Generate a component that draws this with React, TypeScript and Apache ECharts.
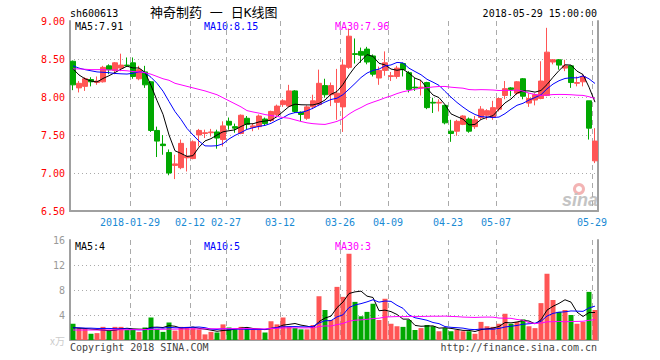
import React, { useEffect, useRef } from "react";
import * as echarts from "echarts";

// ---------- data ----------
const janDays = [15, 16, 17, 18, 19, 22, 23, 24, 25, 26, 29, 30, 31];
const febDays = [1, 2, 5, 6, 7, 8, 9, 12, 13, 14, 22, 23, 26, 27, 28];
const marDays = [1, 2, 5, 6, 7, 8, 9, 12, 13, 14, 15, 16, 19, 20, 21, 22, 23, 26, 27, 28, 29, 30];
const aprDays = [2, 3, 4, 9, 10, 11, 12, 13, 16, 17, 18, 19, 20, 23, 24, 25, 26, 27];
const mayDays = [2, 3, 4, 7, 8, 9, 10, 11, 14, 15, 16, 17, 18, 21, 22, 23, 24, 25, 28, 29];

const tickDates = ["2018-01-29", "2018-02-12", "2018-02-27", "2018-03-12", "2018-03-26", "2018-04-09", "2018-04-23", "2018-05-07", "2018-05-29"];
const tickLabels = ["2018-01-29", "02-12", "02-27", "03-12", "03-26", "04-09", "04-23", "05-07", "05-29"];

const opens = [
  8.47, 8.12, 8.14, 8.23, 8.19, 8.2, 8.41, 8.35, 8.38, 8.42,
  8.45, 8.24, 8.33, 8.2, 7.56, 7.38, 7.27, 7.1, 7.07, 7.2,
  7.19, 7.5, 7.52, 7.53, 7.54, 7.44, 7.68, 7.61, 7.52, 7.72,
  7.6, 7.61, 7.71, 7.69, 7.77, 7.9, 7.88, 8.08, 7.8, 7.72,
  7.87, 7.9, 8.15, 8.03, 7.93, 7.87, 8.39, 8.57, 8.6, 8.63,
  8.54, 8.25, 8.35, 8.27, 8.27, 8.44, 8.32, 8.13, 8.12, 8.19,
  7.93, 7.92, 7.89, 7.55, 7.55, 7.64, 7.71, 7.61, 7.73, 7.76,
  7.73, 7.84, 8.02, 8.12, 8.05, 8.24, 7.92, 7.96, 7.98, 8.02,
  8.46, 8.49, 8.38, 8.41, 8.18, 8.2, 7.95, 7.16,
];
const closes = [
  8.16, 8.18, 8.24, 8.2, 8.21, 8.39, 8.36, 8.45, 8.42, 8.41,
  8.27, 8.36, 8.16, 7.56, 7.42, 7.36, 7.0, 7.12, 7.39, 7.22,
  7.41, 7.56, 7.53, 7.54, 7.46, 7.62, 7.63, 7.59, 7.76, 7.64,
  7.62, 7.75, 7.65, 7.81, 7.88, 7.95, 8.08, 7.81, 7.77, 7.87,
  7.95, 8.18, 8.03, 8.15, 8.05, 8.42, 8.8, 8.56, 8.55, 8.46,
  8.3, 8.35, 8.45, 8.28, 8.38, 8.36, 8.1, 8.12, 8.13, 7.86,
  7.92, 7.93, 7.66, 7.52, 7.68, 7.75, 7.55, 7.7, 7.84, 7.82,
  7.86, 7.98, 8.11, 8.1, 8.2, 8.01, 7.98, 8.03, 8.21, 8.59,
  8.49, 8.42, 8.41, 8.19, 8.19, 8.27, 7.59, 7.42,
];
const lows = [
  8.09, 8.06, 8.08, 8.14, 8.16, 8.19, 8.3, 8.3, 8.34, 8.4,
  8.24, 8.22, 8.12, 7.54, 7.21, 7.24, 6.97, 6.92, 7.05, 7.02,
  7.18, 7.35, 7.46, 7.48, 7.32, 7.35, 7.57, 7.53, 7.51, 7.57,
  7.55, 7.57, 7.63, 7.67, 7.75, 7.87, 7.87, 7.79, 7.68, 7.7,
  7.84, 7.88, 7.99, 7.88, 7.7, 7.54, 8.37, 8.44, 8.45, 8.43,
  8.27, 8.16, 8.28, 8.21, 8.24, 8.27, 8.06, 8.08, 8.02, 7.84,
  7.79, 7.81, 7.64, 7.41, 7.49, 7.63, 7.53, 7.58, 7.7, 7.7,
  7.7, 7.81, 7.97, 8.01, 8.03, 7.97, 7.87, 7.89, 7.97, 8.01,
  8.43, 8.36, 8.34, 8.12, 8.14, 8.14, 7.44, 7.13,
];
const highs = [
  8.48, 8.21, 8.26, 8.26, 8.27, 8.41, 8.43, 8.46, 8.57, 8.52,
  8.52, 8.41, 8.41, 8.21, 7.61, 7.5, 7.31, 7.24, 7.44, 7.33,
  7.43, 7.58, 7.57, 7.58, 7.57, 7.68, 7.73, 7.65, 7.77, 7.75,
  7.65, 7.77, 7.73, 7.82, 7.9, 7.97, 8.16, 8.09, 7.81, 7.89,
  8.03, 8.36, 8.24, 8.19, 8.37, 8.49, 8.9, 8.77, 8.65, 8.66,
  8.56, 8.4, 8.6, 8.33, 8.41, 8.45, 8.34, 8.25, 8.22, 8.2,
  7.99, 7.97, 7.9, 7.7, 7.7, 7.76, 7.73, 7.75, 7.88, 7.84,
  7.95, 7.99, 8.21, 8.13, 8.21, 8.25, 8.05, 8.05, 8.47, 8.91,
  8.5, 8.5, 8.49, 8.41, 8.27, 8.3, 7.95, 7.59,
];
const volumes = [
  2.6, 1.9, 1.8, 1.0, 1.1, 2.1, 1.5, 2.1, 2.1, 1.6,
  1.6, 1.3, 2.0, 3.6, 1.8, 1.3, 2.8, 1.5, 2.1, 2.1,
  1.9, 1.7, 0.9, 1.3, 1.2, 2.5, 2.0, 1.7, 2.1, 1.8,
  1.6, 1.6, 1.2, 3.0, 2.5, 3.6, 2.2, 1.9, 1.7, 1.7,
  2.4, 7.0, 4.8, 3.2, 8.5, 6.9, 13.8, 6.1, 3.8, 4.5,
  5.8, 3.2, 6.6, 2.6, 2.2, 2.1, 3.2, 1.6, 1.9, 2.4,
  2.2, 1.4, 1.9, 1.4, 1.6, 1.4, 1.4, 1.0, 2.9, 2.2,
  2.1, 2.6, 4.2, 2.6, 2.9, 3.3, 2.2, 1.9, 5.9, 10.6,
  6.4, 4.5, 4.8, 4.0, 2.6, 2.9, 7.7, 4.8,
];

// moving-average values before enough visible history exists
const priceMa5Early = [8.37, 8.29, 8.24, 8.21];
const priceMa10Early = [8.41, 8.38, 8.36, 8.345, 8.33, 8.325, 8.32, 8.31, 8.305];
const priceMa30Early = [
  8.37, 8.37, 8.365, 8.36, 8.36, 8.36, 8.355, 8.355, 8.35, 8.345,
  8.335, 8.33, 8.32, 8.3, 8.27, 8.24, 8.22, 8.18, 8.16, 8.14,
  8.12, 8.1, 8.08, 8.055, 8.03, 7.99, 7.95, 7.91, 7.87,
];
const volMa5Early = [2.0, 1.9, 1.85, 1.75];
const volMa10Early = [1.95, 1.95, 1.9, 1.9, 1.85, 1.85, 1.85, 1.8, 1.8];
const volMa30Early = [
  1.6, 1.6, 1.6, 1.6, 1.6, 1.6, 1.62, 1.62, 1.64, 1.64,
  1.66, 1.66, 1.68, 1.7, 1.7, 1.72, 1.74, 1.74, 1.76, 1.76,
  1.78, 1.78, 1.78, 1.8, 1.8, 1.8, 1.82, 1.82, 1.82,
];

const priceLegend = ["MA5:7.91", "MA10:8.15", "MA30:7.96"];
const volLegend = ["MA5:4", "MA10:5", "MA30:3"];

// ---------- helpers ----------
const pad = (n: number) => (n < 10 ? "0" + n : "" + n);
const categories: string[] = [
  ...janDays.map((d) => `2018-01-${pad(d)}`),
  ...febDays.map((d) => `2018-02-${pad(d)}`),
  ...marDays.map((d) => `2018-03-${pad(d)}`),
  ...aprDays.map((d) => `2018-04-${pad(d)}`),
  ...mayDays.map((d) => `2018-05-${pad(d)}`),
];

function movingAverage(vals: number[], n: number, early: number[]): number[] {
  return vals.map((_, i) => {
    if (i < n - 1) return early[i];
    let s = 0;
    for (let k = i - n + 1; k <= i; k++) s += vals[k];
    return +(s / n).toFixed(3);
  });
}

const UP = "#ff5555";
const DOWN = "#00a800";
const FONT = '"DejaVu Sans Mono", "Liberation Mono", monospace';
const CJK = '"Noto Sans CJK SC", "Noto Sans", sans-serif';
const GRID_GRAY = "#aaaaaa";
const BORDER = "#a0a0a0";
const CLEAR = "rgba(0,0,0,0)";

const isTick = (_i: number, v: string) => tickDates.indexOf(v) >= 0;

function txt(text: string, x: number, y: number, color: string, align = "left", font = `10px ${FONT}`) {
  return {
    type: "text",
    x,
    y,
    silent: true,
    style: { text, fill: color, font, textAlign: align, align, textVerticalAlign: "middle", verticalAlign: "middle" },
  };
}

export default function App() {
  const ref = useRef<HTMLDivElement>(null);
  useEffect(() => {
    document.body.style.margin = "0";
    const chart = echarts.init(ref.current!, null, { renderer: "svg" });
    const ohlc = opens.map((o, i) => [o, closes[i], lows[i], highs[i]]);
    const pMa5 = movingAverage(closes, 5, priceMa5Early);
    const pMa10 = movingAverage(closes, 10, priceMa10Early);
    const pMa30 = movingAverage(closes, 30, priceMa30Early);
    const vMa5 = movingAverage(volumes, 5, volMa5Early);
    const vMa10 = movingAverage(volumes, 10, volMa10Early);
    const vMa30 = movingAverage(volumes, 30, volMa30Early);

    const lineS = (data: number[], color: string, xi: number, yi: number) => ({
      type: "line",
      data,
      xAxisIndex: xi,
      yAxisIndex: yi,
      symbol: "none",
      showSymbol: false,
      silent: true,
      lineStyle: { color, width: 1 },
      z: 5,
    });

    const option: any = {
      animation: false,
      backgroundColor: "#ffffff",
      grid: [
        { left: 70, top: 21, width: 528, height: 190 },
        { left: 70, top: 240, width: 528, height: 100 },
      ],
      xAxis: [
        {
          type: "category",
          gridIndex: 0,
          data: categories,
          boundaryGap: true,
          axisLine: { show: true, lineStyle: { color: BORDER, width: 2 } },
          axisTick: { show: false },
          axisLabel: {
            interval: isTick,
            formatter: (v: string) => tickLabels[tickDates.indexOf(v)] || "",
            color: "#1a8ad4",
            fontFamily: FONT,
            fontSize: 10,
            margin: 6,
            padding: [0, 6, 0, 0],
          },
          splitLine: { show: true, interval: isTick, lineStyle: { color: GRID_GRAY, type: [5, 4], width: 1 } },
        },
        {
          type: "category",
          gridIndex: 1,
          data: categories,
          boundaryGap: true,
          axisLine: { show: false },
          axisTick: { show: false },
          axisLabel: { show: false },
          splitLine: { show: true, interval: isTick, lineStyle: { color: GRID_GRAY, type: [5, 4], width: 1 } },
        },
        {
          type: "category",
          gridIndex: 1,
          position: "top",
          data: categories,
          boundaryGap: true,
          axisLine: { show: true, lineStyle: { color: BORDER, width: 2 } },
          axisTick: { show: false },
          axisLabel: { show: false },
          splitLine: { show: false },
        },
      ],
      yAxis: [
        {
          type: "value",
          gridIndex: 0,
          min: 6.5,
          max: 9,
          interval: 0.5,
          position: "left",
          axisLine: { show: true, lineStyle: { color: BORDER, width: 2 } },
          axisTick: { show: false },
          axisLabel: { color: "#ff0000", fontFamily: FONT, fontSize: 10, margin: 5, formatter: (v: number) => v.toFixed(2) },
          splitLine: {
            show: true,
            lineStyle: { color: [CLEAR, GRID_GRAY, GRID_GRAY, GRID_GRAY, GRID_GRAY, CLEAR], type: [1, 3], width: 1 },
          },
        },
        {
          type: "value",
          gridIndex: 0,
          min: 6.5,
          max: 9,
          position: "right",
          axisLine: { show: true, lineStyle: { color: BORDER, width: 2 } },
          axisTick: { show: false },
          axisLabel: { show: false },
          splitLine: { show: false },
        },
        {
          type: "value",
          gridIndex: 1,
          min: 0,
          max: 16,
          interval: 4,
          position: "left",
          axisLine: { show: true, lineStyle: { color: BORDER, width: 2 } },
          axisTick: { show: false },
          axisLabel: {
            color: "#999999",
            fontFamily: FONT,
            fontSize: 10,
            margin: 5,
            formatter: (v: number) => (v === 0 ? "{u|x万}" : String(v)),
            rich: { u: { color: "#cccccc", fontFamily: CJK, fontSize: 10 } },
          },
          splitLine: {
            show: true,
            lineStyle: { color: [CLEAR, GRID_GRAY, GRID_GRAY, GRID_GRAY, CLEAR], type: [1, 3], width: 1 },
          },
        },
        {
          type: "value",
          gridIndex: 1,
          min: 0,
          max: 16,
          position: "right",
          axisLine: { show: true, lineStyle: { color: BORDER, width: 2 } },
          axisTick: { show: false },
          axisLabel: { show: false },
          splitLine: { show: false },
        },
      ],
      series: [
        {
          type: "candlestick",
          xAxisIndex: 0,
          yAxisIndex: 0,
          data: ohlc,
          barWidth: 5,
          silent: true,
          itemStyle: { color: UP, color0: DOWN, borderColor: UP, borderColor0: DOWN, borderWidth: 1 },
        },
        lineS(pMa5, "#000000", 0, 0),
        lineS(pMa10, "#0000ff", 0, 0),
        lineS(pMa30, "#ff00ff", 0, 0),
        {
          type: "bar",
          xAxisIndex: 1,
          yAxisIndex: 2,
          barWidth: 5,
          silent: true,
          data: volumes.map((v, i) => ({ value: v, itemStyle: { color: closes[i] >= opens[i] ? UP : DOWN } })),
        },
        lineS(vMa5, "#000000", 1, 2),
        lineS(vMa10, "#0000ff", 1, 2),
        lineS(vMa30, "#ff00ff", 1, 2),
      ],
      graphic: [
        txt("sh600613", 70, 13, "#000000"),
        txt("神奇制药 一 日K线图", 150, 12, "#000000", "left", `13px "DejaVu Sans Mono", "Noto Sans CJK SC", sans-serif`),
        txt("2018-05-29 15:00:00", 597, 13, "#000000", "right"),
        txt(priceLegend[0], 75, 26, "#000000"),
        txt(priceLegend[1], 204, 26, "#0000ff"),
        txt(priceLegend[2], 335, 26, "#ff00ff"),
        txt(volLegend[0], 75, 246, "#000000"),
        txt(volLegend[1], 204, 246, "#0000ff"),
        txt(volLegend[2], 335, 246, "#ff00ff"),
        txt("Copyright 2018 SINA.COM", 70, 347, "#444444"),
        txt("http://finance.sina.com.cn", 597, 347, "#444444", "right"),
        {
          type: "ring",
          silent: true,
          shape: { cx: 579, cy: 189, r: 6, r0: 3 },
          style: { fill: "#f3b4b4" },
        },
        txt("sina", 562, 200, "#c4c4c4", "left", `italic bold 18px "Liberation Sans", Arial, sans-serif`),
      ],
    };
    chart.setOption(option);
    return () => chart.dispose();
  }, []);
  return <div ref={ref} style={{ position: "absolute", left: 0, top: 0, width: 660, height: 360 }} />;
}
